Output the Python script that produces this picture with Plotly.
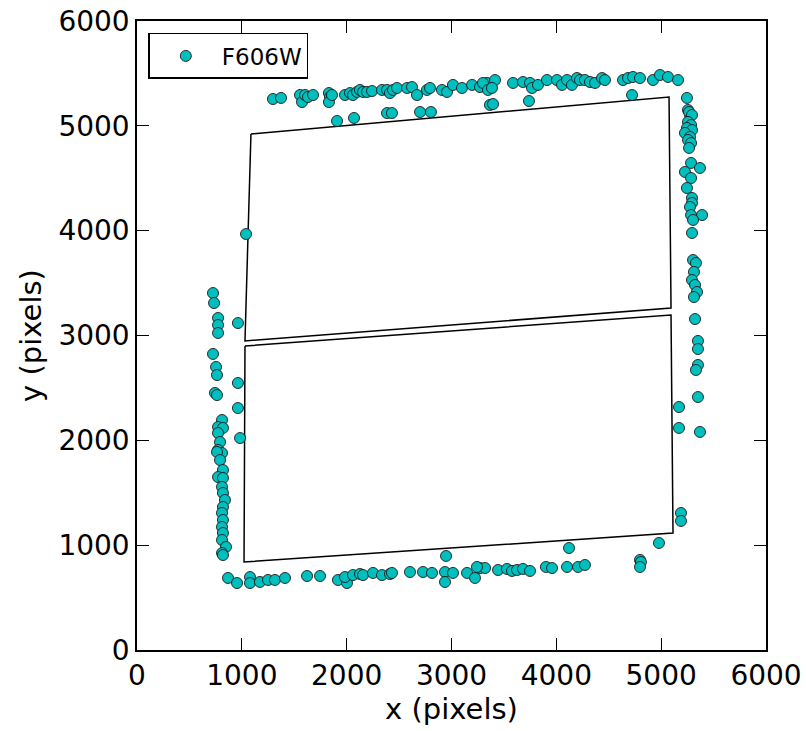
import plotly.graph_objects as go

# Source positions detected in the F606W exposure (detector pixels)
x_top = [1297, 1374, 1555, 1574, 1603, 1631, 1679, 1831, 1841, 1831, 1860, 1984, 2032, 2060,
         2099, 2127, 2156, 2194, 2242, 2337, 2385, 2413, 2442, 2480, 2576, 2623, 2671, 2766,
         2795, 2909, 2957, 3014, 3100, 3196, 3272, 3339, 1908, 2070, 2385, 2432, 2700, 2804,
         3367, 3300, 3348, 3415, 3386, 3587, 3682, 3749, 3768, 3825, 3911, 4006, 4054, 4102,
         4149, 4197, 4226, 4273, 4321, 4369, 4436, 4464, 4636, 4684, 4731, 4798, 4922, 4989,
         5065, 5161, 3396, 3739, 4722]
y_top = [5256, 5266, 5294, 5227, 5294, 5275, 5294, 5313, 5275, 5227, 5294, 5294, 5313, 5294,
         5323, 5342, 5323, 5323, 5332, 5342, 5342, 5313, 5342, 5361, 5361, 5370, 5294, 5342,
         5361, 5342, 5323, 5390, 5361, 5390, 5370, 5409, 5046, 5075, 5122, 5122, 5132, 5132,
         5199, 5409, 5342, 5437, 5361, 5409, 5418, 5409, 5361, 5390, 5437, 5437, 5390, 5437,
         5390, 5456, 5437, 5437, 5418, 5409, 5456, 5437, 5437, 5456, 5466, 5456, 5437, 5485,
         5466, 5437, 5208, 5237, 5294]

x_right = [5246, 5256, 5275, 5266, 5294, 5256, 5285, 5246, 5294, 5227, 5275, 5256, 5285, 5266,
           5285, 5370, 5227, 5285, 5246, 5294, 5294, 5275, 5285, 5390, 5304, 5294, 5304, 5332,
           5313, 5294, 5323, 5342, 5313, 5323, 5351, 5351, 5351, 5332, 5351, 5170, 5170, 5370,
           5189, 5189, 4979]
y_right = [5266, 5151, 5103, 5132, 5103, 5037, 5008, 4979, 4960, 4932, 4894, 4865, 4836, 4789,
           4646, 4598, 4560, 4502, 4407, 4312, 4264, 4226, 4149, 4149, 4102, 3978, 3720, 3692,
           3606, 3529, 3482, 3415, 3367, 3157, 2948, 2871, 2719, 2671, 2413, 2318, 2118, 2080,
           1307, 1231, 1021]

x_left = [725, 735, 773, 773, 773, 963, 725, 754, 763, 963, 744, 763, 963, 983, 811, 773, 820,
          773, 792, 773, 811, 763, 792, 820, 773, 820, 811, 820, 839, 820, 811, 820, 811, 820,
          811, 849, 811, 820, 1040]
y_left = [3405, 3310, 3167, 3100, 3024, 3119, 2824, 2700, 2623, 2547, 2452, 2432, 2308, 2022,
          2194, 2127, 2118, 2070, 1984, 1908, 1879, 1889, 1812, 1717, 1650, 1641, 1555, 1498,
          1431, 1364, 1307, 1240, 1173, 1116, 1049, 983, 925, 906, 3968]

x_bottom = [868, 954, 1078, 1078, 1173, 1250, 1316, 1412, 1622, 1746, 1917, 2003, 1984, 2060,
            2127, 2156, 2251, 2337, 2413, 2432, 2604, 2728, 2814, 2938, 2938, 3014, 3148, 3224,
            3272, 3320, 2948, 3243, 3444, 3529, 3577, 3625, 3682, 3749, 3901, 3959, 4102, 4207,
            4273, 4121, 4798, 4807, 4798]
y_bottom = [687, 639, 696, 639, 649, 668, 668, 687, 706, 706, 668, 639, 696, 715,
            725, 715, 735, 715, 725, 735, 744, 744, 735, 744, 649, 735, 735, 687,
            782, 782, 897, 792, 763, 773, 754, 763, 773, 754, 792, 782, 792, 792,
            811, 973, 859, 839, 792]

src_x = x_top + x_right + x_left + x_bottom
src_y = y_top + y_right + y_left + y_bottom

# Chip footprints (closed outlines)
chip1_x = [1087, 5075, 5094, 1030, 1087]
chip1_y = [4922, 5275, 3262, 2948, 4922]
chip2_x = [1030, 5094, 5113, 1021, 1030]
chip2_y = [2900, 3196, 1116, 839, 2900]

axis_ticks = [0, 1000, 2000, 3000, 4000, 5000, 6000]

fig = go.Figure()
for cx, cy in [(chip1_x, chip1_y), (chip2_x, chip2_y)]:
    fig.add_trace(go.Scatter(x=cx, y=cy, mode="lines", showlegend=False,
                             line=dict(color="black", width=1.5), hoverinfo="skip"))

fig.add_trace(go.Scatter(
    x=src_x, y=src_y, mode="markers", name="F606W",
    marker=dict(size=11, color="#00BFBF", line=dict(color="#1a1a1a", width=0.9)),
))

axis_common = dict(
    range=[0, 6000], tickvals=axis_ticks, ticks="inside", ticklen=12, tickwidth=1.2,
    tickcolor="black", showline=True, linecolor="black", linewidth=1.5, mirror="ticks",
    showgrid=False, zeroline=False, automargin=False,
    tickfont=dict(family="DejaVu Sans", size=28, color="black"),
)

fig.update_layout(
    width=806, height=731,
    margin=dict(l=137, r=40, t=21, b=81),
    plot_bgcolor="white", paper_bgcolor="white",
    font=dict(family="DejaVu Sans", color="black"),
    xaxis=dict(**axis_common, title=dict(text="x (pixels)", font=dict(size=29), standoff=6)),
    yaxis=dict(**axis_common, title=dict(text="y (pixels)", font=dict(size=29), standoff=8)),
    legend=dict(x=0.018, y=0.981, xanchor="left", yanchor="top",
                bgcolor="white", bordercolor="black", borderwidth=1.5,
                font=dict(family="DejaVu Sans", size=23, color="black"),
                itemwidth=62),
    showlegend=True,
)

fig.write_html("out.html")
